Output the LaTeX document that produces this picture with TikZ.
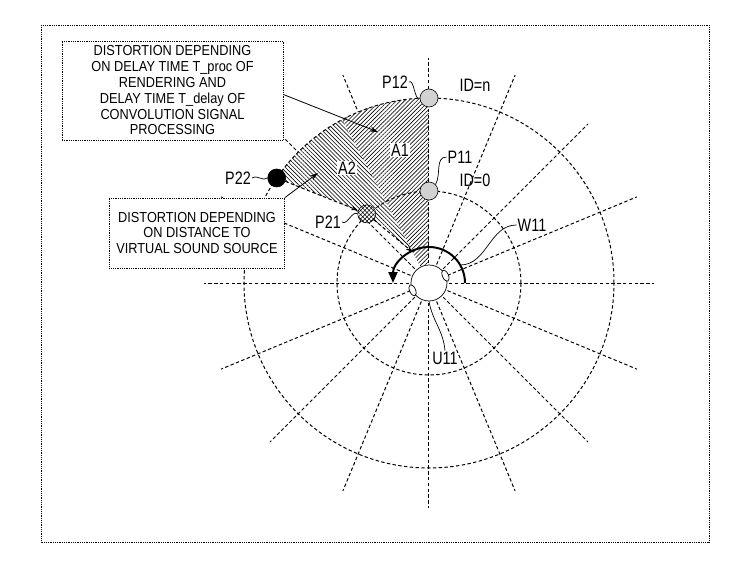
\documentclass[tikz,border=0pt]{standalone}
\usepackage{fontspec}
\setmainfont{Liberation Sans}
\newfontfamily\boxfont[FakeStretch=0.88]{Liberation Sans}
\newfontfamily\labfont[FakeStretch=0.8]{Liberation Sans}
\usepackage{tikz}
\usetikzlibrary{arrows.meta, patterns.meta, calc}

\begin{document}
\begin{tikzpicture}[x=1pt,y=1pt,
    gridline/.style={line width=1pt, dash pattern=on 3.4pt off 2.4pt},
    frame/.style={line width=0.8pt, densely dotted},
    txtbox/.style={draw, densely dotted, line width=0.8pt, fill=white, align=center,
      inner sep=0pt, font=\boxfont\fontsize{14.5}{15.8}\selectfont},
    marker/.style={circle, draw, line width=0.6pt, minimum size=18pt, inner sep=0pt},
    lab/.style={font=\labfont\fontsize{18}{18}\selectfont, inner sep=1pt},
    lead/.style={line width=0.7pt},
    arr/.style={line width=0.8pt, -{Stealth[length=8pt,width=5pt]}}]
  \useasboundingbox (-429,-288) rectangle (319,283);
  % frame
  \draw[frame] (-388,258) rectangle (280,-259);
  % rays around the listener
  \foreach \a in {0,22.5,...,337.5}
    \draw[gridline] (\a:20) -- (\a:225);
  % hatched areas
  \coordinate (q) at (118:35);
  \path[fill=white, postaction={pattern={Lines[angle=45,distance=2.9pt,line width=0.6pt]}}]
    (0,0) -- (90:185) arc[start angle=90, end angle=118, radius=185] -- cycle;
  \path[fill=white, postaction={pattern={Lines[angle=-45,distance=2.9pt,line width=0.6pt]}}]
    (118:185) arc[start angle=118, end angle=145.4, radius=185] -- (132:93) -- (q) -- cycle;
  \draw[gridline] (90:20) -- (90:225);
  % distance circles
  \draw[gridline] (0,0) circle[radius=92];
  \draw[gridline] (0,0) circle[radius=185];
  % W11 and listener
  \draw[line width=2pt, -{Triangle[length=11pt,width=9pt]}] (36,0) arc[start angle=0, end angle=180, radius=36];
  \node[circle, draw, fill=white, line width=0.7pt, minimum size=36pt, inner sep=0pt] (u11) at (0,0) {};
  \draw[fill=white, line width=0.7pt, shift={(24:18)}, rotate=24] (0,0) ellipse[x radius=3, y radius=6];
  \draw[fill=white, line width=0.7pt, shift={(204:18)}, rotate=204] (0,0) ellipse[x radius=3, y radius=6];
  % sound source positions
  \node[marker, fill=gray!35] (p12) at (90:185) {};
  \node[marker, fill=gray!35] (p11) at (90:92) {};
  \node[marker, fill=white, postaction={pattern={Hatch[angle=45,distance=3pt,line width=0.5pt]}}] (p21) at (132:93) {};
  \node[marker, fill=black] (p22) at (145.4:185) {};
  \draw[gridline, -{Stealth[length=7pt,width=4.5pt]}] (p22) -- (p21);
  \draw[gridline, -{Stealth[length=7pt,width=4.5pt]}] (p21) -- (q);
  % text boxes
  \node[txtbox, minimum width=221pt, minimum height=99pt] (procbox) at (-256.5,192.5)
    {DISTORTION DEPENDING\\ON DELAY TIME T\_proc OF\\RENDERING AND\\DELAY TIME T\_delay OF\\CONVOLUTION SIGNAL\\PROCESSING};
  \node[txtbox, minimum width=175pt, minimum height=70pt] (distbox) at (-232,50)
    {DISTORTION DEPENDING\\ON DISTANCE TO\\VIRTUAL SOUND SOURCE};
  \coordinate (a1tip) at (-51,151);
  \coordinate (a2tip) at (-111,110);
  \draw[arr] ([yshift=-4pt]procbox.east) -- (a1tip);
  \draw[arr] (distbox.north east) -- (a2tip);
  % labels
  \node[lab] (l12) at (-34,201) {P12};
  \node[lab] (l11) at (31,126) {P11};
  \node[lab] (l21) at (-101,61) {P21};
  \node[lab] (l22) at (-191,105) {P22};
  \node[lab] (idn) at (46,198) {ID=n};
  \node[lab] (id0) at (46,103) {ID=0};
  \node[lab, fill=white] (la1) at (-29,133) {A1};
  \node[lab, fill=white] (la2) at (-82,115) {A2};
  \node[lab] (lw11) at (103,58) {W11};
  \node[lab] (lu11) at (16,-75) {U11};
  \draw[lead] (l12.east) .. controls +(5,4) and +(-5,-4) .. (p12.west);
  \draw[lead] (l11.west) to[out=180, in=60] (p11.north east);
  \draw[lead] (l21.east) .. controls +(5,-4) and +(-5,4) .. (p21.west);
  \draw[lead] (l22.east) .. controls +(4,4) and +(-4,-4) .. (p22.west);
  \draw[lead] (lw11.west) to[out=180, in=0] (30:36);
  \draw[lead] (lu11.north) to[out=95, in=-80] (u11.south);
\end{tikzpicture}
\end{document}
